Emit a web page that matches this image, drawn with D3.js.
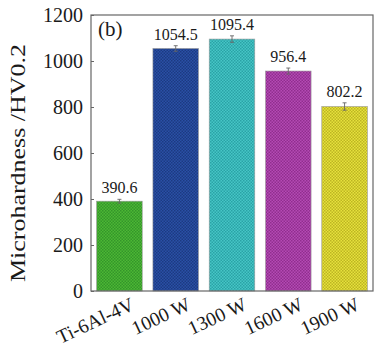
<!DOCTYPE html>
<html>
<head>
<meta charset="utf-8">
<script src="https://cdn.jsdelivr.net/npm/d3@7/dist/d3.min.js"></script>
<style>
  html, body { margin: 0; padding: 0; background: #fff; }
  svg { display: block; }
  text { font-family: "Liberation Serif", "Times New Roman", serif; fill: #1a1a1a; }
</style>
</head>
<body>
<svg id="chart" width="376" height="348"></svg>
<script>
// Microhardness of the substrate and of coatings clad at different laser powers
const categories = ["Ti-6Al-4V", "1000 W", "1300 W", "1600 W", "1900 W"];
const hardness   = [390.6, 1054.5, 1095.4, 956.4, 802.2];
const hardnessErr = [8, 12, 14, 13, 16];
const valueLabels = ["390.6", "1054.5", "1095.4", "956.4", "802.2"];
const yTicks = [0, 200, 400, 600, 800, 1000, 1200];
const barColors = ["#4cb834", "#2a50a6", "#46c6c6", "#b44ab4", "#e6e23c"];
const barShades = ["#34952a", "#1c3a82", "#2aa2a6", "#902e8e", "#bdb422"];

const svg = d3.select("#chart");
const margin = { left: 91, right: 3, top: 15, bottom: 57 };
const W = 376, H = 348;
const plotW = W - margin.left - margin.right;
const plotH = H - margin.top - margin.bottom;

const x = d3.scaleBand()
  .domain(categories)
  .range([margin.left, margin.left + plotW])
  .paddingInner(0.19)
  .paddingOuter(0.1);

const y = d3.scaleLinear()
  .domain([0, 1200])
  .range([margin.top + plotH, margin.top]);

// checkered fill for every bar
const defs = svg.append("defs");
categories.forEach((c, i) => {
  const p = defs.append("pattern")
    .attr("id", "chk" + i)
    .attr("patternUnits", "userSpaceOnUse")
    .attr("width", 3).attr("height", 3);
  p.append("rect").attr("width", 3).attr("height", 3).attr("fill", barColors[i]);
  p.append("rect").attr("x", 0).attr("y", 0).attr("width", 1.5).attr("height", 1.5).attr("fill", barShades[i]);
  p.append("rect").attr("x", 1.5).attr("y", 1.5).attr("width", 1.5).attr("height", 1.5).attr("fill", barShades[i]);
});

// bars
svg.append("g").selectAll("rect")
  .data(categories)
  .join("rect")
  .attr("x", d => x(d))
  .attr("y", (d, i) => y(hardness[i]))
  .attr("width", x.bandwidth())
  .attr("height", (d, i) => y(0) - y(hardness[i]))
  .attr("fill", (d, i) => `url(#chk${i})`)
  .attr("stroke", "#9a9a9a")
  .attr("stroke-width", 0.6);

// error bars
const eb = svg.append("g").attr("stroke", "#666").attr("stroke-width", 0.9);
categories.forEach((c, i) => {
  const cx = x(c) + x.bandwidth() / 2;
  const lo = y(hardness[i] - hardnessErr[i]);
  const hi = y(hardness[i] + hardnessErr[i]);
  eb.append("line").attr("x1", cx).attr("x2", cx).attr("y1", lo).attr("y2", hi);
  eb.append("line").attr("x1", cx - 2).attr("x2", cx + 2).attr("y1", lo).attr("y2", lo);
  eb.append("line").attr("x1", cx - 2).attr("x2", cx + 2).attr("y1", hi).attr("y2", hi);
});

// value labels above the bars
svg.append("g").selectAll("text")
  .data(categories)
  .join("text")
  .attr("x", d => x(d) + x.bandwidth() / 2)
  .attr("y", (d, i) => y(hardness[i] + hardnessErr[i]) - 6)
  .attr("text-anchor", "middle")
  .attr("font-size", 16)
  .text((d, i) => valueLabels[i]);

// frame
svg.append("rect")
  .attr("x", margin.left).attr("y", margin.top)
  .attr("width", plotW).attr("height", plotH)
  .attr("fill", "none")
  .attr("stroke", "#666")
  .attr("stroke-width", 1.2);

// y axis: inward ticks, labels outside
const yAxis = d3.axisLeft(y).tickValues(yTicks).tickSizeInner(-3).tickSizeOuter(0).tickPadding(8).tickFormat(d3.format("d"));
const ga = svg.append("g").attr("transform", `translate(${margin.left},0)`).call(yAxis);
ga.select(".domain").remove();
ga.selectAll(".tick line").attr("stroke", "#666");
ga.selectAll(".tick text")
  .attr("font-size", 20)
  .attr("fill", "#1a1a1a");

// x axis labels, rotated
const xAxis = d3.axisBottom(x).tickSize(0).tickPadding(0);
const gx = svg.append("g").attr("transform", `translate(0,${y(0)})`).call(xAxis);
gx.select(".domain").remove();
gx.selectAll(".tick text")
  .attr("font-size", 19.5)
  .attr("fill", "#1a1a1a")
  .attr("text-anchor", "end")
  .attr("dy", null)
  .attr("transform", "translate(16,18) rotate(-25)");

// y axis title
svg.append("text")
  .attr("transform", "translate(25,163) rotate(-90)")
  .attr("text-anchor", "middle")
  .attr("font-size", 21)
  .attr("textLength", 238)
  .attr("lengthAdjust", "spacingAndGlyphs")
  .text("Microhardness /HV0.2");

// panel tag
svg.append("text")
  .attr("x", 98).attr("y", 36)
  .attr("font-size", 21)
  .text("(b)");
</script>
</body>
</html>
